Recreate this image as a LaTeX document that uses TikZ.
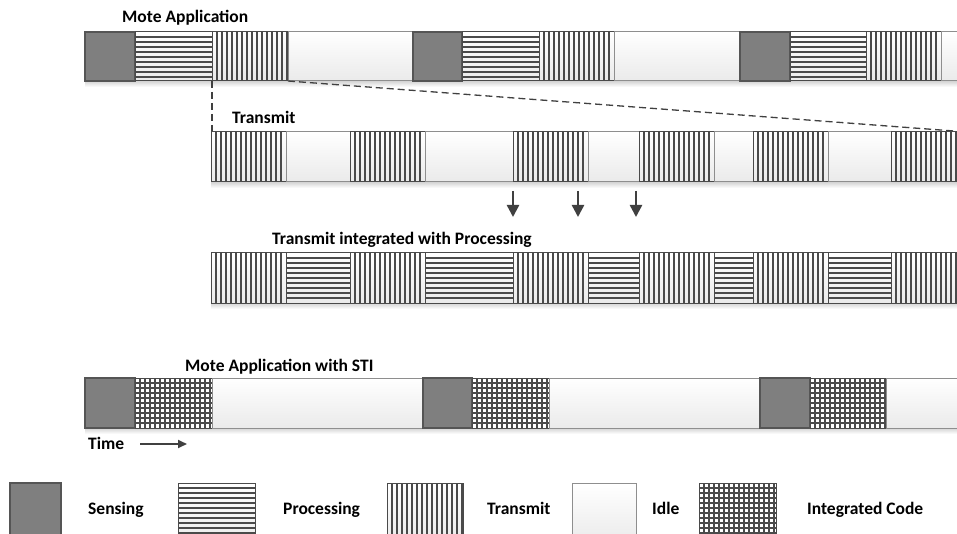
\documentclass[tikz,border=0pt]{standalone}
\usepackage{fontspec}
\setmainfont{Carlito}
\usetikzlibrary{arrows.meta}
\definecolor{sensfill}{HTML}{7F7F7F}
\definecolor{sensbord}{HTML}{555555}
\definecolor{idlebot}{HTML}{EAEAEA}
\definecolor{idlebord}{HTML}{8E8E8E}
\definecolor{patc}{HTML}{4A4A4A}
\definecolor{shadc}{HTML}{D4D4D4}
\definecolor{arrc}{HTML}{404040}
\tikzset{
  lbl/.style={font=\bfseries\fontsize{17.5}{20}\selectfont, anchor=base west, inner sep=0pt},
  patl/.style={draw=patc, line width=1.1pt},
  gridl/.style={draw=patc, line width=1.6pt},
  patbord/.style={draw=patc, line width=1pt},
  dashln/.style={draw=arrc, line width=1.3pt, dash pattern=on 7pt off 4pt},
  darr/.style={draw=arrc, line width=2.4pt, -{Triangle[length=12pt,width=12pt]}},
}
\newcommand\segS[4]{\fill[sensfill] (#1,#2) rectangle (#3,#4); \draw[draw=sensbord,line width=1.2pt] (#1,#2) rectangle (#3,#4);}
\newcommand\segI[4]{\shade[top color=white,bottom color=idlebot] (#1,#2) rectangle (#3,#4); \draw[draw=idlebord,line width=1pt] (#1,#2) rectangle (#3,#4);}
\newcommand\segP[4]{\shade[top color=white,bottom color=idlebot] (#1,#2) rectangle (#3,#4);
  \pgfmathtruncatemacro\myn{(#4-#2-1)/5}%
  \foreach \k in {1,...,\myn} {\draw[patl] (#1,#2+5*\k) -- (#3,#2+5*\k);}
  \draw[patbord] (#1,#2) rectangle (#3,#4);}
\newcommand\segT[4]{\shade[top color=white,bottom color=idlebot] (#1,#2) rectangle (#3,#4);
  \pgfmathtruncatemacro\myn{(#3-#1-1)/5}%
  \foreach \k in {1,...,\myn} {\draw[patl] (#1+5*\k,#2) -- (#1+5*\k,#4);}
  \draw[patbord] (#1,#2) rectangle (#3,#4);}
\newcommand\segG[4]{\fill[white] (#1,#2) rectangle (#3,#4);
  \pgfmathtruncatemacro\myn{(#4-#2-1)/5}%
  \foreach \k in {1,...,\myn} {\draw[gridl] (#1,#2+5*\k) -- (#3,#2+5*\k);}
  \pgfmathtruncatemacro\mym{(#3-#1-1)/5}%
  \foreach \k in {1,...,\mym} {\draw[gridl] (#1+5*\k,#2) -- (#1+5*\k,#4);}
  \draw[patbord] (#1,#2) rectangle (#3,#4);}
\newcommand\shad[3]{\shade[top color=shadc,bottom color=white] (#1,#3) rectangle (#2,#3+6);}
\begin{document}
\begin{tikzpicture}[x=1pt,y=-1pt]
\useasboundingbox (0,0) rectangle (957,534);
\clip (0,0) rectangle (957,534);
\fill[white] (0,0) rectangle (957,534);
% ---- Row 1: Mote Application
\node[lbl] (t1) at (122,23) {Mote Application};
\shad{85}{957}{81}
\segS{85}{32}{135}{81}
\segP{135}{32}{212}{81}
\segT{212}{32}{288}{81}
\segI{288}{32}{413}{81}
\segS{413}{32}{462}{81}
\segP{462}{32}{539}{81}
\segT{539}{32}{614}{81}
\segI{614}{32}{740}{81}
\segS{740}{32}{790}{81}
\segP{790}{32}{866}{81}
\segT{866}{32}{941}{81}
\segI{941}{32}{960}{81}
\coordinate (zl) at (212,81);
\coordinate (zr) at (288,81);
% ---- Row 2: Transmit
\node[lbl] (t2) at (232,124) {Transmit};
\coordinate (zl2) at (212,131);
\coordinate (zr2) at (954,131);
\draw[dashln] (zl) -- (zl2);
\draw[dashln] (zr) -- (zr2);
\shad{211}{957}{182}
\segT{211}{132}{286}{182}
\segI{286}{132}{350}{182}
\segT{350}{132}{425}{182}
\segI{425}{132}{513}{182}
\segT{513}{132}{588}{182}
\segI{588}{132}{639}{182}
\segT{639}{132}{714}{182}
\segI{714}{132}{753}{182}
\segT{753}{132}{828}{182}
\segI{828}{132}{891}{182}
\segT{891}{132}{957}{182}
% arrows
\coordinate (a1s) at (513,191); \coordinate (a1e) at (513,217);
\coordinate (a2s) at (578,191); \coordinate (a2e) at (578,217);
\coordinate (a3s) at (636,191); \coordinate (a3e) at (636,217);
\draw[darr] (a1s) -- (a1e);
\draw[darr] (a2s) -- (a2e);
\draw[darr] (a3s) -- (a3e);
% ---- Row 3: Transmit integrated with Processing
\node[lbl] (t3) at (272,245) {Transmit integrated with Processing};
\shad{211}{957}{303}
\segT{211}{253}{286}{303}
\segP{286}{253}{350}{303}
\segT{350}{253}{425}{303}
\segP{425}{253}{513}{303}
\segT{513}{253}{588}{303}
\segP{588}{253}{639}{303}
\segT{639}{253}{714}{303}
\segP{714}{253}{753}{303}
\segT{753}{253}{828}{303}
\segP{828}{253}{891}{303}
\segT{891}{253}{957}{303}
% ---- Row 4: Mote Application with STI
\node[lbl] (t4) at (185,371) {Mote Application with STI};
\shad{85}{957}{428}
\segS{85}{378}{135}{428}
\segG{135}{378}{212}{428}
\segI{212}{378}{423}{428}
\segS{423}{378}{472}{428}
\segG{472}{378}{549}{428}
\segI{549}{378}{760}{428}
\segS{760}{378}{810}{428}
\segG{810}{378}{886}{428}
\segI{886}{378}{960}{428}
\node[lbl] (time) at (88,449) {Time};
\coordinate (ts) at (140,444); \coordinate (te) at (187,444);
\draw[draw=arrc, line width=1.8pt, -{Triangle[length=9pt,width=8pt]}] (ts) -- (te);
% ---- Legend
\segS{10}{483}{61}{545}
\node[lbl] (l1) at (88,514) {Sensing};
\segP{178}{483}{255}{545}
\node[lbl] (l2) at (283,514) {Processing};
\segT{387}{483}{463}{545}
\node[lbl] (l3) at (487,514) {Transmit};
\segI{572}{483}{636}{545}
\node[lbl] (l4) at (652,514) {Idle};
\segG{699}{483}{776}{545}
\node[lbl] (l5) at (807,514) {Integrated Code};
\end{tikzpicture}
\end{document}
